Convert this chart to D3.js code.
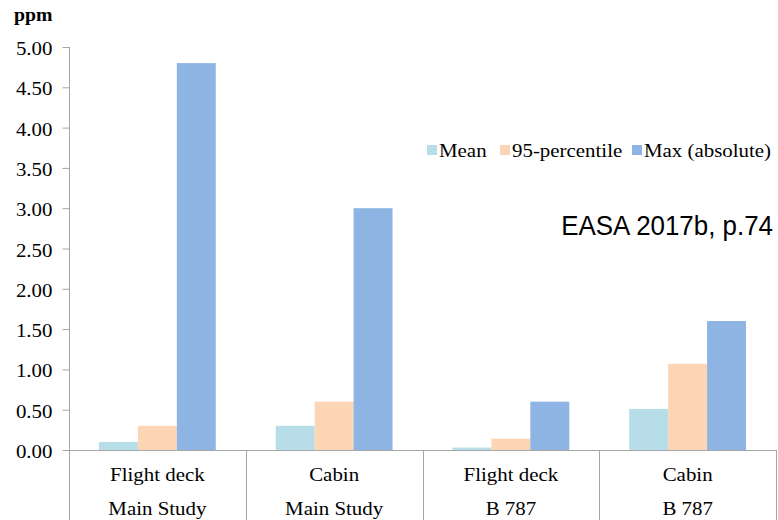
<!DOCTYPE html>
<html>
<head>
<meta charset="utf-8">
<script src="https://cdn.jsdelivr.net/npm/d3@7"></script>
<style>
  html, body { margin: 0; padding: 0; background: #fff; }
  svg { display: block; }
</style>
</head>
<body>
<svg id="chart" width="778" height="520"></svg>
<script>
const categories = ["Flight deck|Main Study", "Cabin|Main Study", "Flight deck|B 787", "Cabin|B 787"];
const seriesNames = ["Mean", "95-percentile", "Max (absolute)"];
const meanValues = [0.10, 0.30, 0.03, 0.51];
const p95Values = [0.30, 0.60, 0.14, 1.07];
const maxValues = [4.80, 3.00, 0.60, 1.60];
const yTicks = [0, 0.5, 1, 1.5, 2, 2.5, 3, 3.5, 4, 4.5, 5];
const colors = ["#b7dee8", "#fcd5b5", "#8eb4e3"];
const seriesValues = [meanValues, p95Values, maxValues];

const SERIF = '"Liberation Serif", "Times New Roman", serif';
const SANS = '"Liberation Sans", Arial, sans-serif';
const SX = 1.1;

const svg = d3.select("#chart");
const mLeft = 69, mRight = 776, mTop = 47, mBottom = 450;

const x = d3.scaleBand().domain(categories).range([mLeft, mRight]).padding(0);
const xs = d3.scaleBand().domain(seriesNames).range([0, x.bandwidth()]).paddingInner(0).paddingOuter(0.77);
const y = d3.scaleLinear().domain([0, 5]).range([mBottom, mTop]);

const axisColor = "#a6a6a6";

function stext(parent, tx, ty, str, size, anchor, weight) {
  return parent.append("text")
    .attr("transform", `translate(${tx},${ty}) scale(${SX},1)`)
    .attr("text-anchor", anchor || "start")
    .style("font-family", SERIF)
    .style("font-size", size + "px")
    .style("font-weight", weight || "normal")
    .style("fill", "#000")
    .text(str);
}

// bars
seriesNames.forEach((s, si) => {
  svg.append("g").selectAll("rect")
    .data(categories.map((c, i) => ({ c, v: seriesValues[si][i] })))
    .join("rect")
    .attr("x", d => x(d.c) + xs(s))
    .attr("width", xs.bandwidth())
    .attr("y", d => y(d.v))
    .attr("height", d => y(0) - y(d.v))
    .attr("fill", colors[si]);
});

// y axis
const yAxis = d3.axisLeft(y).tickValues(yTicks).tickFormat(d3.format(".2f")).tickSize(7).tickPadding(10);
const gy = svg.append("g").attr("transform", `translate(${mLeft + 0.5},0)`).call(yAxis);
gy.select(".domain").remove();
gy.selectAll("line").attr("stroke", axisColor);
gy.selectAll(".tick text").each(function () {
  const t = d3.select(this);
  const tx = +t.attr("x");
  t.attr("x", 0).attr("dy", null).attr("y", 0)
    .attr("transform", `translate(${tx},7.5) scale(${SX},1)`)
    .style("font-family", SERIF).style("font-size", "19px").style("fill", "#000");
});
svg.append("line").attr("x1", mLeft + 0.5).attr("x2", mLeft + 0.5).attr("y1", mTop).attr("y2", 520).attr("stroke", axisColor);

// x axis line
svg.append("line").attr("x1", mLeft).attr("x2", mRight).attr("y1", mBottom + 0.5).attr("y2", mBottom + 0.5).attr("stroke", axisColor);

// category separators
const bounds = categories.map(c => x(c)).concat([mRight]);
svg.append("g").selectAll("line").data(bounds.slice(1)).join("line")
  .attr("x1", d => Math.round(d) + 0.5).attr("x2", d => Math.round(d) + 0.5)
  .attr("y1", mBottom).attr("y2", 520).attr("stroke", axisColor);

// category labels
const gl = svg.append("g");
categories.forEach(c => {
  const cx = x(c) + x.bandwidth() / 2;
  const parts = c.split("|");
  stext(gl, cx, 481, parts[0], 19, "middle");
  stext(gl, cx, 515, parts[1], 19, "middle");
});

// unit
stext(svg, 14, 21, "ppm", 18, "start", "bold");

// legend
const legendX = [427, 500, 632];
const lg = svg.append("g");
seriesNames.forEach((s, i) => {
  lg.append("rect").attr("x", legendX[i]).attr("y", 145).attr("width", 10).attr("height", 10).attr("fill", colors[i]);
  stext(lg, legendX[i] + 12, 157, s, 19, "start");
});

// source note
svg.append("text")
  .attr("transform", "translate(773,235) scale(0.96,1)")
  .attr("text-anchor", "end")
  .style("font-family", SANS).style("font-size", "27px").style("fill", "#000")
  .text("EASA 2017b, p.74");
</script>
</body>
</html>
